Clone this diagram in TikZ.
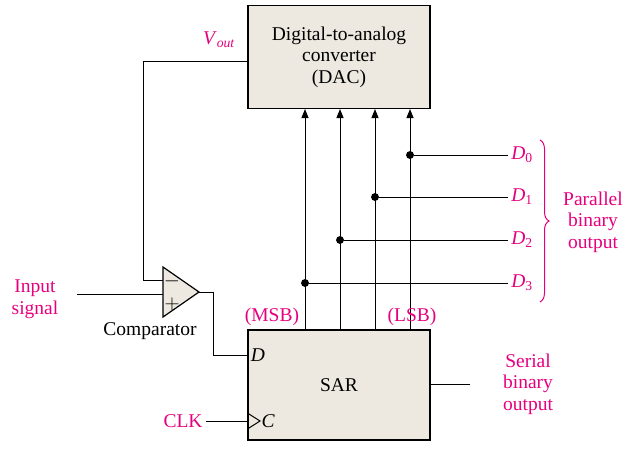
\documentclass[tikz,border=0pt]{standalone}
\usepackage{fontspec}
\setmainfont{Liberation Serif}
\usetikzlibrary{arrows.meta,decorations.pathreplacing,shapes.geometric}
\definecolor{boxfill}{RGB}{237,233,224}
\definecolor{mag}{RGB}{230,0,126}
\newcommand{\sig}[2]{\textit{#1}\textsubscript{#2}}
\begin{document}
\begin{tikzpicture}[x=1pt,y=-1pt,font=\fontsize{19.5}{21.5}\selectfont,
  blk/.style={draw,fill=boxfill,line width=1.2pt},
  wire/.style={line width=1pt},
  bus/.style={wire,-{Triangle[length=9pt,width=7pt]}},
  lbl/.style={text=mag},
  dot/.style={circle,fill,inner sep=2.8pt}]
\useasboundingbox (0,0) rectangle (632,451);

% DAC and SAR
\node[blk,minimum width=182pt,minimum height=103pt,align=center] (dac) at (339,57)
  {Digital-to-analog\\converter\\(DAC)};
\node[blk,minimum width=182pt,minimum height=110pt] (sar) at (339,385) {SAR};
\node[anchor=west] (d) at (sar.west|-0,355) {\textit{D}};
\node[anchor=west] (c) at (258,421) {\textit{C}};
\draw[wire] (sar.west|-0,413) -- (260,421) -- (sar.west|-0,429);

% comparator
\draw[blk] (163,267) -- (199,292) -- (163,317) -- cycle;
\node (minus) at (172,281) {$-$};
\node (plus) at (172,304) {$+$};
\node (comp) at (150,331) {Comparator};
\node[lbl] (vout) at (219,40) {\sig{V}{\textit{out}}};
\coordinate (fb1) at (143,61);
\coordinate (fb2) at (143,280);
\draw[wire] (dac.west|-fb1) -- (fb1) -- (fb2) -- (163,280);
\node[lbl,align=center] (insig) at (35,299) {Input\\signal};
\draw[wire] (77,294) -- (163,294);
\draw[wire] (199,292) -- (213,292) -- (213,355) -- (sar.west|-0,355);

% clock
\node[lbl] (clk) at (183,421) {CLK};
\draw[wire] (clk.east) -- (sar.west|-clk);

% bits
\foreach \x/\y/\n in {410/155/0,375/197/1,340/240/2,305/283/3}{
  \draw[bus] (\x,330) -- (\x,109);
  \node[dot] (b\n) at (\x,\y) {};
  \node[lbl] (D\n) at (522,\y) {\sig{D}{\n}};
  \draw[wire] (b\n) -- (D\n.west);
}
\node[lbl] (msb) at (272,317) {(MSB)};
\node[lbl] (lsb) at (412,317) {(LSB)};
\draw[mag,wire,decorate,decoration={brace,amplitude=9pt}] (540,140) -- (540,302);
\node[lbl,align=center] (par) at (593,222) {Parallel\\binary\\output};

% serial
\node[lbl,align=center] (ser) at (528,384) {Serial\\binary\\output};
\draw[wire] (sar.east|-0,384) -- (470,384);
\end{tikzpicture}
\end{document}
